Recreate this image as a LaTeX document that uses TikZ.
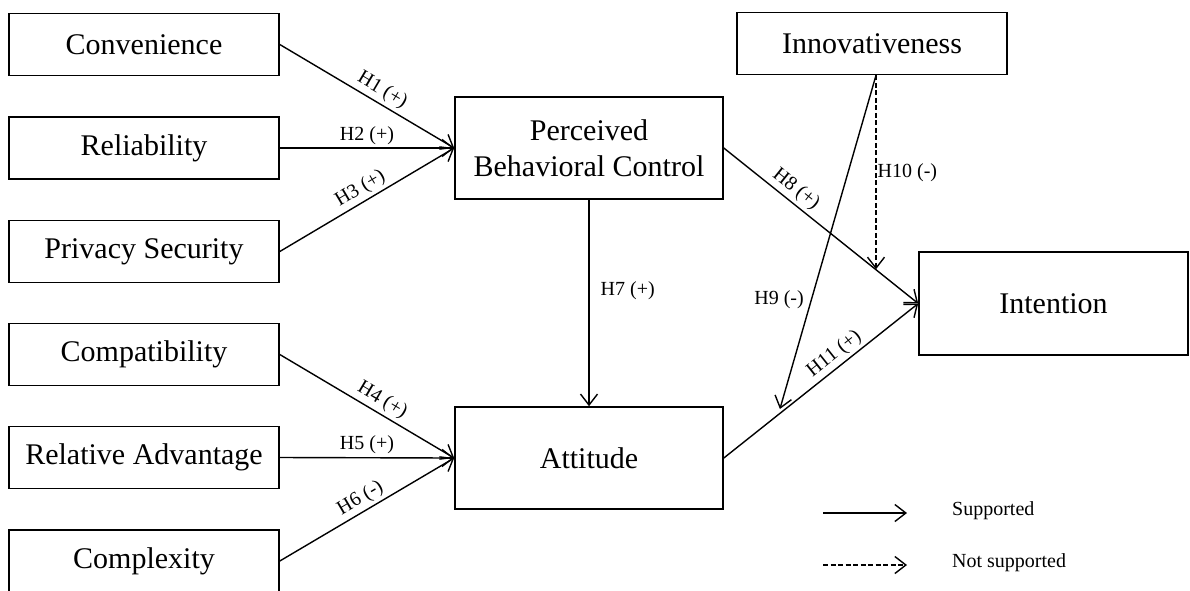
\documentclass[tikz,border=0pt]{standalone}
\usepackage{fontspec}
\setmainfont{Liberation Serif}
\usetikzlibrary{arrows.meta}
\begin{document}
\begin{tikzpicture}[x=1pt,y=1pt,
  box/.style={draw, line width=1.6pt, minimum width=270pt, minimum height=62pt, inner sep=0pt, font=\fontsize{30}{36}\selectfont, align=center},
  bigbox/.style={box, minimum width=268pt, minimum height=102pt},
  arr/.style={line width=1.4pt, -{Straight Barb[length=11pt,width=17pt,line width=1.4pt]}},
  darr/.style={arr, dash pattern=on 5pt off 2.5pt},
  lab/.style={font=\fontsize{20}{24}\selectfont, inner sep=3pt}
]
\useasboundingbox (0,0) rectangle (1190,-590);
% left boxes
\node[box] (conv) at (144,-44.5) {Convenience};
\node[box] (rel) at (144,-148) {Reliability};
\node[box] (priv) at (144,-251.5) {Privacy Security};
\node[box] (comp) at (144,-354.5) {Compatibility};
\node[box] (radv) at (144,-457.5) {Relative Advantage};
\node[box] (cplx) at (144,-561) {Complexity};
% middle
\node[bigbox] (pbc) at (589,-148) {Perceived\\Behavioral Control};
\node[bigbox] (att) at (589,-458) {Attitude};
% right
\node[box] (inn) at (872,-43.5) {Innovativeness};
\node[box, minimum width=269pt, minimum height=103pt] (int) at (1053.5,-303.5) {Intention};

% left arrows
\draw[arr] (conv.east) -- node[lab, above, sloped, pos=0.55] {H1 (+)} (pbc.west);
\draw[arr] (rel.east) -- node[lab, above, pos=0.5] {H2 (+)} (pbc.west);
\draw[arr] (priv.east) -- node[lab, above, sloped, pos=0.5] {H3 (+)} (pbc.west);
\draw[arr] (comp.east) -- node[lab, above, sloped, pos=0.55] {H4 (+)} (att.west);
\draw[arr] (radv.east) -- node[lab, above, pos=0.5] {H5 (+)} (att.west);
\draw[arr] (cplx.east) -- node[lab, above, sloped, pos=0.5] {H6 (-)} (att.west);

% H7
\draw[arr] (pbc.south) -- node[lab, right, pos=0.44, xshift=8pt] {H7 (+)} (att.north);

% H8 and H11
\draw[arr] (pbc.east) -- node[lab, above, sloped, pos=0.33] {H8 (+)} coordinate[pos=0.78] (h8p) (int.west);
\draw[arr] (att.east) -- node[lab, above, sloped, pos=0.61] {H11 (+)} coordinate[pos=0.28] (h11p) (int.west);

% moderation
\coordinate (is) at ([xshift=4pt]inn.south);
\draw[darr] (is) -- node[lab, right, pos=0.5, inner sep=1pt] {H10 (-)} (is |- h8p);
\draw[arr, shorten >=6pt] (is) -- node[lab, left, pos=0.66, xshift=-4pt] {H9 (-)} (h11p);

% legend
\coordinate (l1a) at (823,-513);
\coordinate (l1b) at (907,-513);
\coordinate (l2a) at (823,-565);
\coordinate (l2b) at (907,-565);
\draw[arr] (l1a) -- (l1b);
\draw[darr] (l2a) -- (l2b);
\node[lab, anchor=west, inner sep=0pt] (sup) at (952,-511) {Supported};
\node[lab, anchor=west, inner sep=0pt] (nsup) at (952,-563) {Not supported};
\end{tikzpicture}
\end{document}
